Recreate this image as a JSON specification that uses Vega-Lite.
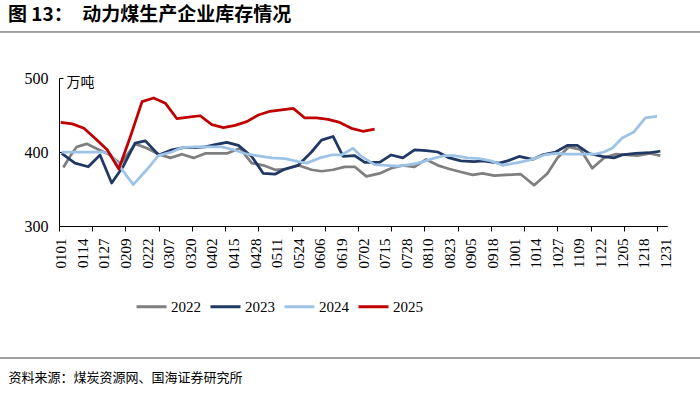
{
  "$schema": "https://vega.github.io/schema/vega-lite/v6.json",
  "width": 608,
  "height": 148,
  "autosize": "none",
  "padding": {"left": 59, "top": 78, "right": 33, "bottom": 168},
  "background": "white",
  "config": {
    "view": {"stroke": null},
    "font": "Liberation Serif",
    "axis": {"labelColor": "#000", "domainColor": "#000", "tickColor": "#000", "grid": false}
  },
  "title": {
    "text": "图 13：　动力煤生产企业库存情况",
    "anchor": "start",
    "frame": "group",
    "dx": -51,
    "offset": 6,
    "font": "Noto Sans CJK SC",
    "fontSize": 19,
    "fontWeight": "bold",
    "color": "#000"
  },
  "layer": [
    {
      "data": {"values": [{}]},
      "mark": {"type": "rule", "color": "#444", "strokeWidth": 1, "clip": false},
      "encoding": {
        "x": {"datum": -36, "type": "quantitative", "scale": {"domain": [0, 366], "nice": false, "zero": false},
          "axis": {"orient": "bottom", "values": [0,20,40,60,80,100,120,140,160,180,200,220,240,260,280,300,320,340,360], "labels": false, "ticks": true, "tickSize": 5, "domain": true, "title": null}},
        "x2": {"datum": 386},
        "y": {"datum": 562.2, "type": "quantitative", "scale": {"domain": [300, 500], "nice": false, "zero": false}}
      }
    },
    {
      "data": {"values": [{}]},
      "mark": {"type": "rule", "color": "#444", "strokeWidth": 1, "clip": false},
      "encoding": {
        "x": {"datum": -36, "type": "quantitative", "scale": {"domain": [0, 366], "nice": false, "zero": false}, "axis": null},
        "x2": {"datum": 386},
        "y": {"datum": 121.6, "type": "quantitative", "scale": {"domain": [300, 500], "nice": false, "zero": false}}
      }
    },
    {
      "data": {"values": [
        {"year":"2022","day":2.6,"value":379},{"year":"2022","day":6.6,"value":394},{"year":"2022","day":10.7,"value":407},{"year":"2022","day":16.7,"value":411},{"year":"2022","day":24,"value":403},{"year":"2022","day":30,"value":397},{"year":"2022","day":37,"value":384},{"year":"2022","day":46,"value":411},{"year":"2022","day":53,"value":405},{"year":"2022","day":60,"value":397},{"year":"2022","day":67,"value":392},{"year":"2022","day":74,"value":397},{"year":"2022","day":81,"value":392},{"year":"2022","day":88,"value":398},{"year":"2022","day":95,"value":398},{"year":"2022","day":101,"value":398},{"year":"2022","day":109,"value":405},{"year":"2022","day":116,"value":385},{"year":"2022","day":123,"value":382},{"year":"2022","day":130,"value":376},{"year":"2022","day":137,"value":377},{"year":"2022","day":144,"value":382},{"year":"2022","day":152,"value":376},{"year":"2022","day":158,"value":374},{"year":"2022","day":165,"value":376},{"year":"2022","day":172,"value":380},{"year":"2022","day":178,"value":380},{"year":"2022","day":185,"value":367},{"year":"2022","day":193,"value":371},{"year":"2022","day":200,"value":378},{"year":"2022","day":207,"value":382},{"year":"2022","day":214,"value":380},{"year":"2022","day":221,"value":390},{"year":"2022","day":228,"value":382},{"year":"2022","day":235,"value":377},{"year":"2022","day":242,"value":373},{"year":"2022","day":249,"value":369},{"year":"2022","day":255,"value":371},{"year":"2022","day":262,"value":368},{"year":"2022","day":269,"value":369},{"year":"2022","day":278,"value":370},{"year":"2022","day":286,"value":355},{"year":"2022","day":294,"value":371},{"year":"2022","day":300,"value":392},{"year":"2022","day":307,"value":407},{"year":"2022","day":314,"value":403},{"year":"2022","day":321,"value":378},{"year":"2022","day":328,"value":392},{"year":"2022","day":335,"value":397},{"year":"2022","day":342,"value":396},{"year":"2022","day":348,"value":395},{"year":"2022","day":356,"value":398},{"year":"2022","day":362,"value":395},
        {"year":"2023","day":1.6,"value":398},{"year":"2023","day":9.6,"value":385},{"year":"2023","day":17.6,"value":380},{"year":"2023","day":24.7,"value":396},{"year":"2023","day":31.7,"value":358},{"year":"2023","day":38.5,"value":380},{"year":"2023","day":45.8,"value":412},{"year":"2023","day":52,"value":415},{"year":"2023","day":60,"value":396},{"year":"2023","day":68,"value":403},{"year":"2023","day":75,"value":406},{"year":"2023","day":82,"value":406},{"year":"2023","day":88,"value":407},{"year":"2023","day":94,"value":410},{"year":"2023","day":101,"value":413},{"year":"2023","day":108,"value":409},{"year":"2023","day":116,"value":394},{"year":"2023","day":123,"value":371},{"year":"2023","day":130,"value":370},{"year":"2023","day":136,"value":377},{"year":"2023","day":144,"value":382},{"year":"2023","day":152,"value":400},{"year":"2023","day":158,"value":416},{"year":"2023","day":165,"value":421},{"year":"2023","day":171,"value":394},{"year":"2023","day":178,"value":395},{"year":"2023","day":184,"value":386},{"year":"2023","day":193,"value":386},{"year":"2023","day":200,"value":396},{"year":"2023","day":207,"value":392},{"year":"2023","day":214,"value":403},{"year":"2023","day":221,"value":402},{"year":"2023","day":228,"value":400},{"year":"2023","day":235,"value":392},{"year":"2023","day":242,"value":388},{"year":"2023","day":250,"value":387},{"year":"2023","day":255,"value":388},{"year":"2023","day":265,"value":385},{"year":"2023","day":270,"value":388},{"year":"2023","day":277,"value":394},{"year":"2023","day":285,"value":390},{"year":"2023","day":291,"value":396},{"year":"2023","day":299,"value":400},{"year":"2023","day":306,"value":409},{"year":"2023","day":312,"value":409},{"year":"2023","day":319,"value":398},{"year":"2023","day":327,"value":394},{"year":"2023","day":334,"value":392},{"year":"2023","day":339,"value":396},{"year":"2023","day":347,"value":398},{"year":"2023","day":355,"value":399},{"year":"2023","day":362,"value":401},
        {"year":"2024","day":1.6,"value":400},{"year":"2024","day":9.6,"value":400},{"year":"2024","day":17.6,"value":400},{"year":"2024","day":25.7,"value":400},{"year":"2024","day":30.7,"value":398},{"year":"2024","day":36.7,"value":380},{"year":"2024","day":44.7,"value":356},{"year":"2024","day":52.8,"value":376},{"year":"2024","day":59.8,"value":395},{"year":"2024","day":67.9,"value":400},{"year":"2024","day":74,"value":406},{"year":"2024","day":82,"value":407},{"year":"2024","day":90,"value":407},{"year":"2024","day":98,"value":407},{"year":"2024","day":105,"value":403},{"year":"2024","day":112,"value":398},{"year":"2024","day":119,"value":395},{"year":"2024","day":128,"value":392},{"year":"2024","day":136,"value":391},{"year":"2024","day":144,"value":387},{"year":"2024","day":149,"value":385},{"year":"2024","day":157,"value":392},{"year":"2024","day":164,"value":396},{"year":"2024","day":170,"value":396},{"year":"2024","day":177,"value":405},{"year":"2024","day":182,"value":394},{"year":"2024","day":190,"value":383},{"year":"2024","day":197,"value":382},{"year":"2024","day":204,"value":381},{"year":"2024","day":211,"value":383},{"year":"2024","day":218,"value":386},{"year":"2024","day":225,"value":391},{"year":"2024","day":232,"value":395},{"year":"2024","day":238,"value":395},{"year":"2024","day":246,"value":392},{"year":"2024","day":253,"value":391},{"year":"2024","day":260,"value":388},{"year":"2024","day":267,"value":382},{"year":"2024","day":277,"value":386},{"year":"2024","day":285,"value":390},{"year":"2024","day":292,"value":396},{"year":"2024","day":299,"value":398},{"year":"2024","day":306,"value":397},{"year":"2024","day":314,"value":397},{"year":"2024","day":322,"value":397},{"year":"2024","day":328,"value":400},{"year":"2024","day":333,"value":405},{"year":"2024","day":339,"value":419},{"year":"2024","day":346,"value":427},{"year":"2024","day":353,"value":446},{"year":"2024","day":360,"value":448},
        {"year":"2025","day":1,"value":440},{"year":"2025","day":8,"value":438},{"year":"2025","day":15,"value":432},{"year":"2025","day":22,"value":418},{"year":"2025","day":29,"value":403},{"year":"2025","day":36,"value":377},{"year":"2025","day":43,"value":421},{"year":"2025","day":50,"value":468},{"year":"2025","day":57,"value":473},{"year":"2025","day":64,"value":466},{"year":"2025","day":71,"value":445},{"year":"2025","day":78,"value":447},{"year":"2025","day":85,"value":449},{"year":"2025","day":92,"value":437},{"year":"2025","day":99,"value":433},{"year":"2025","day":106,"value":436},{"year":"2025","day":113,"value":441},{"year":"2025","day":120,"value":450},{"year":"2025","day":127,"value":455},{"year":"2025","day":134,"value":457},{"year":"2025","day":141,"value":459},{"year":"2025","day":148,"value":446},{"year":"2025","day":155,"value":446},{"year":"2025","day":162,"value":444},{"year":"2025","day":169,"value":440},{"year":"2025","day":176,"value":432},{"year":"2025","day":183,"value":428},{"year":"2025","day":190,"value":431}
      ]},
      "mark": {"type": "line", "strokeWidth": 2.75, "strokeJoin": "round"},
      "encoding": {
        "x": {"field": "day", "type": "quantitative", "scale": {"domain": [0, 366], "nice": false, "zero": false},
          "axis": {"orient": "bottom", "values": [1,14,27,40,53,66,79,92,105,118,131,144,157,170,183,196,209,222,235,248,261,274,287,300,313,326,339,352,365],
            "labelExpr": "timeFormat(datetime(2023, 0, datum.value), '%m%d')",
            "labelAngle": 270, "ticks": false, "domain": true, "labelPadding": 12, "labelFont": "Liberation Serif", "labelFontSize": 15, "labelBound": false, "labelOverlap": false,
            "title": "资料来源：煤炭资源网、国海证券研究所", "titleX": -51, "titleY": 151, "titleAlign": "left", "titleAnchor": "start", "titleBaseline": "middle",
            "titleFont": "Noto Sans CJK SC", "titleFontSize": 13, "titleFontWeight": "normal", "titleColor": "#000"}},
        "y": {"field": "value", "type": "quantitative", "scale": {"domain": [300, 500], "nice": false, "zero": false},
          "axis": {"values": [300, 350, 400, 450, 500], "tickSize": -4, "labelPadding": 15, "labelFont": "Liberation Serif", "labelFontSize": 16,
            "title": "万吨", "titleAngle": 0, "titleX": 7, "titleY": 4, "titleAlign": "left", "titleBaseline": "middle",
            "titleFont": "Noto Sans CJK SC", "titleFontSize": 14, "titleFontWeight": "normal", "titleColor": "#000"}},
        "color": {"field": "year", "type": "nominal",
          "scale": {"domain": ["2022", "2023", "2024", "2025"], "range": ["#7f7f7f", "#1f3864", "#9dc3e6", "#c00000"]},
          "legend": {"orient": "none", "legendX": 76, "legendY": 212, "direction": "horizontal", "title": null, "padding": 0,
            "symbolType": "stroke", "symbolSize": 900, "symbolStrokeWidth": 3, "labelFont": "Liberation Serif", "labelFontSize": 15,
            "labelOffset": 3, "columnPadding": 3, "labelColor": "#000"}}
      }
    }
  ],
  "resolve": {"axis": {"x": "independent"}}
}
